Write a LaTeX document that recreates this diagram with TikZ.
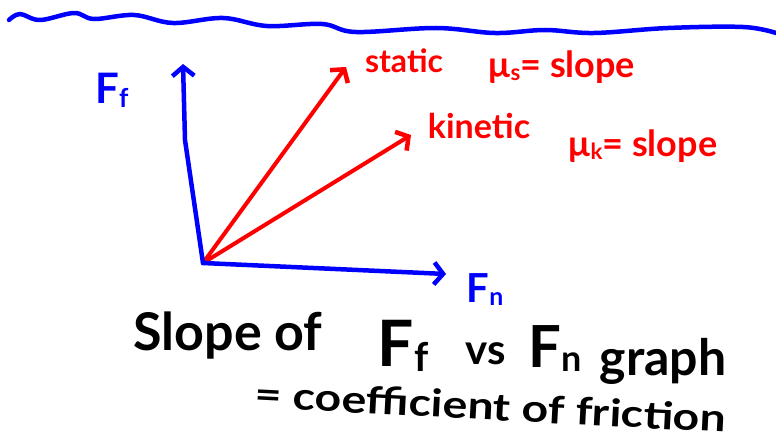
\documentclass[tikz,border=0pt]{standalone}
\usepackage{fontspec}
\setmainfont{Lato}
\usetikzlibrary{arrows.meta}
\definecolor{penblue}{RGB}{0,0,255}
\definecolor{penred}{RGB}{255,0,0}
\newcommand{\fsz}[1]{\fontsize{#1}{#1}\selectfont}
\newcommand{\subx}[1]{\raisebox{-0.08em}{\scalebox{0.62}{#1}}}
\tikzset{
  pen/.style={line width=4.5pt, line cap=round, line join=round},
  bluepen/.style={pen, draw=penblue},
  redpen/.style={pen, draw=penred, line width=4pt},
  barb/.style={-{Straight Barb[length=9pt,width=22pt,line width=4.5pt]}},
  txt/.style={inner sep=0pt, anchor=base, font=\bfseries},
  bluetxt/.style={txt, text=penblue},
  redtxt/.style={txt, text=penred},
  blacktxt/.style={txt, text=black},
}
\begin{document}
\begin{tikzpicture}[x=1pt,y=-1pt]
\useasboundingbox (0,0) rectangle (776,441);
% wavy top line
\draw[bluepen] plot[smooth, tension=0.6] coordinates {(9,20) (20,14) (40,20) (74,13) (94,19) (134,15) (173,23) (223,18) (267,26) (322,24) (356,32) (436,28) (495,33) (545,30) (594,33) (668,28) (743,27) (776,33)};
% axes
\coordinate (O) at (203,263);
\coordinate (ffbend) at (185,140);
\coordinate (fftip) at (183,64);
\coordinate (fntip) at (446,274);
\coordinate (stip) at (346,67);
\coordinate (ktip) at (411,135);
\draw[redpen, barb] (O) -- (stip);
\draw[redpen, barb] (O) -- (ktip);
\draw[bluepen, barb] (O) -- (ffbend) -- (fftip);
\draw[bluepen, barb] (O) -- (fntip);
% blue labels
\node[bluetxt] (fflab) at (112,104) {\fsz{42}F\subx{f}};
\node[bluetxt] (fnlab) at (485,302) {\fsz{40}F\subx{n}};
% red labels
\node[redtxt] (static) at (404,73) {\fsz{32}static};
\node[redtxt] (mus) at (562,78) {\fsz{36}μ\subx{s}= slope};
\node[redtxt] (kinetic) at (479,139) {\fsz{34}kinetic};
\node[redtxt] (muk) at (643,157) {\fsz{36}μ\subx{k}= slope};
% black text
\node[blacktxt] (slope) at (228,350) {\fsz{52}Slope of};
\node[blacktxt] (ffb) at (403,366) {\fsz{64}F\subx{f}};
\node[blacktxt] (vs) at (486,364) {\fsz{42}vs};
\node[blacktxt] (fnb) at (555,367) {\fsz{58}F\subx{n}};
\node[blacktxt] (graph) at (663,375) {\fsz{50}graph};
\node[blacktxt, rotate=-3, xscale=1.22] (coef) at (490,420) {\fsz{38}= coefficient of friction};
\end{tikzpicture}
\end{document}
